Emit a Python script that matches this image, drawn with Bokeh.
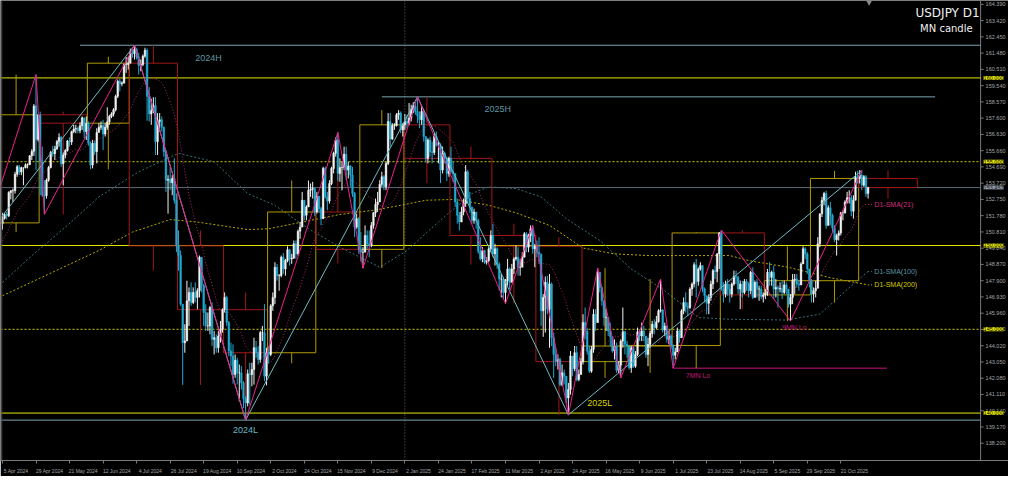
import numpy as np
import pandas as pd
from bokeh.plotting import figure
from bokeh.models import (Range1d, LinearAxis, FixedTicker, Label, ColumnDataSource, Span)
from bokeh.core.properties import value
from bokeh.embed import file_html
from bokeh.resources import INLINE

# ---------------- data ----------------
symbol_title = "USDJPY D1"
sub_title = "MN candle"
first_bar = "2024-04-05"
holidays = ["2024-12-25", "2025-01-01", "2025-12-25"]

# closes before the first visible bar (2024-03-08 .. 2024-04-04), for SMA(21)
pre_close = [147.05, 146.95, 147.65, 147.75, 148.3, 149.05, 149.15, 150.85, 151.25, 151.6,
             151.4, 151.4, 151.55, 151.3, 151.35, 151.35, 151.65, 151.55, 151.7, 151.3]

# daily closes 2024-04-05 .. 2025-11-07 (one row per week)
close = [
    151.62,
    151.85, 151.77, 153.16, 153.27, 153.27,
    154.25, 154.70, 154.38, 154.64, 154.64,
    154.82, 154.82, 155.35, 155.62, 158.33,
    156.33, 157.79, 155.0, 153.0, 152.97,
    153.9, 154.65, 155.55, 155.48, 155.78,
    156.2, 156.45, 154.88, 155.4, 155.67,
    156.24, 156.18, 156.8, 156.95, 156.98,
    156.86, 157.15, 157.62, 156.8, 157.3,
    156.1, 154.8, 156.1, 155.6, 156.75,
    157.05, 157.15, 156.65, 157.05, 157.38,
    157.7, 157.85, 158.1, 158.9, 159.8,
    159.65, 159.7, 160.8, 160.8, 160.88,
    161.5, 161.45, 161.7, 161.25, 160.75,
    160.8, 161.3, 161.65, 158.9, 157.85,
    158.05, 158.35, 156.2, 157.4, 157.5,
    157.05, 155.6, 153.9, 153.95, 153.75,
    154.0, 152.7, 149.98, 149.4, 146.5,
    144.2, 144.3, 146.7, 147.2, 146.6,
    147.2, 146.9, 147.3, 149.3, 147.6,
    146.0, 145.2, 145.2, 146.3, 144.4,
    144.5, 143.9, 144.6, 145.0, 146.17,
    146.9, 145.4, 143.7, 143.4, 142.3,
    143.15, 142.4, 142.4, 141.8, 140.85,
    140.6, 142.35, 142.3, 142.6, 143.9,
    143.6, 143.2, 144.8, 144.8, 142.2,
    143.6, 143.5, 146.4, 146.9, 148.7,
    148.2, 148.2, 149.3, 148.6, 149.1,
    149.75, 149.2, 149.25, 150.1, 149.5,
    150.85, 151.1, 152.7, 151.8, 152.3,
    153.3, 153.35, 153.4, 152.0, 152.95,
    152.2, 151.6, 154.6, 152.9, 152.65,
    153.7, 154.6, 155.5, 156.3, 154.3,
    154.65, 154.65, 155.45, 154.5, 154.75,
    154.2, 153.1, 151.1, 151.6, 149.77,
    149.6, 149.6, 150.6, 150.1, 150.0,
    151.2, 151.95, 152.45, 152.6, 153.65,
    154.1, 153.5, 154.9, 157.4, 156.35,
    157.15, 157.15, 157.8, 157.9,
    156.9, 157.2, 157.4, 157.3,
    157.6, 158.1, 158.3, 158.0, 157.75,
    157.5, 158.0, 156.5, 155.2, 156.3,
    155.6, 155.55, 156.5, 156.0, 156.0,
    154.5, 155.5, 155.2, 154.3, 155.2,
    154.4, 154.3, 152.6, 151.8, 151.4,
    152.0, 152.5, 154.4, 152.8, 152.3,
    151.5, 152.0, 151.5, 149.65, 149.2,
    149.7, 149.0, 149.1, 149.8, 150.6,
    149.5, 149.8, 148.9, 148.0, 148.0,
    147.2, 147.9, 148.6, 147.8, 148.6,
    149.2, 149.3, 148.7, 148.7, 149.3,
    150.7, 149.9, 150.6, 151.0, 149.8,
    149.96, 149.6, 149.5, 146.1, 146.9,
    147.8, 146.2, 147.7, 144.5, 143.5,
    143.1, 143.2, 141.7, 142.4, 142.2,
    140.9, 141.4, 143.4, 142.65, 143.6,
    142.0, 142.3, 143.07, 145.4, 144.9,
    143.7, 142.5, 143.8, 145.9, 145.4,
    148.4, 147.5, 146.7, 145.7, 145.7,
    144.9, 144.55, 143.7, 144.0, 142.55,
    142.85, 144.3, 144.85, 144.1, 144.0,
    142.7, 143.9, 142.8, 143.5, 144.85,
    144.6, 144.9, 144.6, 143.5, 144.1,
    144.75, 145.3, 145.1, 145.45, 146.1,
    146.15, 144.95, 145.2, 144.4, 144.6,
    144.03, 143.45, 143.65, 144.9, 144.5,
    146.1, 146.6, 146.35, 146.3, 147.4,
    147.7, 148.85, 147.85, 148.6, 148.8,
    147.4, 147.0, 146.55, 146.9, 147.7,
    148.5, 148.45, 149.5, 150.75, 147.4,
    147.1, 147.7, 147.4, 147.1, 147.7,
    148.15, 148.1, 147.4, 147.7, 147.2,
    147.85, 147.7, 147.3, 148.4, 146.9,
    147.8, 147.4, 147.4, 146.95, 147.05,
    147.15, 148.4, 148.1, 148.4, 147.4,
    147.5, 147.4, 147.45, 147.2, 147.65,
    147.4, 146.5, 146.9, 147.95, 148.0,
    147.7, 147.65, 148.9, 149.8, 149.5,
    148.6, 147.9, 147.1, 147.3, 147.45,
    150.1, 151.9, 152.7, 153.1, 151.2,
    152.25, 151.8, 151.05, 150.35, 150.6,
    150.75, 151.95, 151.95, 152.6, 152.85,
    152.85, 152.05, 152.7, 154.1, 154.0,
    154.2, 153.6, 154.1, 153.1, 153.46,
]

high = [
    151.95,
    151.95, 152.0, 153.24, 153.3, 153.4,
    154.4, 154.8, 154.8, 154.7, 154.65,
    154.9, 154.9, 155.4, 155.75, 158.44,
    160.2, 157.8, 157.99, 155.9, 153.9,
    154.0, 154.75, 155.65, 155.95, 155.95,
    156.3, 156.7, 156.55, 155.55, 155.75,
    156.3, 156.45, 156.85, 157.2, 157.2,
    157.1, 157.35, 157.7, 157.6, 157.7,
    157.4, 156.2, 156.3, 156.25, 157.0,
    157.3, 157.4, 157.5, 157.3, 158.25,
    157.8, 157.95, 158.2, 159.0, 159.9,
    159.95, 159.8, 160.85, 161.25, 161.27,
    161.75, 161.7, 161.95, 161.8, 161.5,
    161.1, 161.4, 161.8, 161.75, 159.45,
    158.75, 158.85, 158.85, 157.9, 157.9,
    157.7, 157.1, 155.7, 154.2, 154.7,
    154.2, 155.2, 153.1, 150.9, 149.7,
    146.5, 145.3, 147.9, 147.5, 147.8,
    147.5, 147.8, 147.45, 149.4, 149.1,
    147.7, 146.5, 146.0, 146.4, 146.6,
    144.9, 144.7, 144.9, 145.5, 146.25,
    147.2, 147.0, 145.5, 144.2, 144.1,
    143.5, 143.3, 142.9, 142.8, 141.9,
    141.0, 142.6, 143.0, 143.0, 144.5,
    144.3, 144.0, 144.9, 145.2, 146.5,
    143.9, 144.0, 146.5, 147.2, 149.0,
    148.9, 148.3, 149.4, 149.55, 149.2,
    149.95, 149.8, 149.5, 150.3, 150.3,
    150.95, 151.4, 153.2, 152.7, 152.4,
    153.88, 153.7, 153.8, 153.4, 153.2,
    152.8, 152.3, 154.7, 154.7, 153.2,
    153.9, 154.7, 155.6, 156.45, 156.75,
    155.2, 155.0, 155.9, 155.9, 155.0,
    154.8, 154.7, 153.2, 151.9, 151.7,
    150.8, 149.9, 151.2, 150.9, 150.9,
    151.4, 152.0, 152.8, 153.2, 153.9,
    154.4, 154.2, 155.0, 157.9, 157.9,
    157.3, 157.3, 157.9, 158.08,
    158.0, 157.3, 157.85, 157.8,
    158.5, 158.4, 158.55, 158.5, 158.87,
    158.0, 158.3, 158.1, 156.4, 156.4,
    156.5, 156.2, 156.7, 156.8, 156.2,
    156.1, 155.9, 155.6, 155.3, 155.3,
    155.9, 155.0, 154.3, 152.8, 152.0,
    152.3, 152.8, 154.8, 154.5, 153.2,
    152.3, 152.2, 152.0, 151.6, 150.5,
    149.9, 149.6, 149.3, 149.9, 150.9,
    151.3, 150.1, 149.9, 149.0, 148.3,
    148.1, 148.0, 149.2, 148.7, 148.9,
    149.3, 150.0, 149.9, 149.2, 149.6,
    150.8, 150.8, 150.7, 151.2, 151.2,
    150.1, 150.3, 150.49, 149.3, 147.1,
    148.15, 148.2, 148.3, 147.8, 144.8,
    143.9, 143.5, 143.3, 142.9, 142.6,
    142.2, 141.8, 143.7, 143.2, 144.0,
    144.0, 142.6, 143.3, 145.9, 146.3,
    145.1, 144.0, 144.0, 146.2, 146.2,
    148.65, 148.3, 147.5, 146.7, 146.2,
    145.7, 145.4, 144.5, 144.4, 144.2,
    143.1, 144.4, 146.3, 144.9, 144.3,
    144.0, 144.0, 144.0, 143.7, 145.1,
    145.0, 145.4, 145.2, 144.6, 144.5,
    144.9, 145.5, 145.6, 145.8, 146.2,
    148.0, 146.2, 145.4, 145.2, 144.9,
    144.7, 144.1, 143.9, 145.1, 145.0,
    146.2, 146.9, 147.2, 146.6, 147.5,
    147.8, 149.0, 149.2, 148.7, 149.0,
    148.7, 147.5, 147.0, 147.1, 147.9,
    148.6, 148.8, 149.55, 150.8, 150.92,
    147.8, 147.9, 148.0, 147.7, 147.8,
    148.5, 148.5, 148.2, 147.9, 147.9,
    148.0, 148.0, 147.8, 148.5, 148.7,
    147.9, 148.0, 147.6, 147.6, 147.2,
    147.4, 148.6, 149.0, 148.5, 148.8,
    148.0, 147.6, 147.8, 147.9, 147.9,
    147.8, 147.4, 147.1, 148.3, 148.3,
    148.3, 147.9, 149.0, 149.95, 149.9,
    149.6, 148.6, 148.0, 147.5, 147.9,
    150.5, 151.9, 152.9, 153.2, 153.27,
    152.4, 152.6, 151.9, 151.2, 150.7,
    150.9, 152.0, 152.1, 152.7, 153.2,
    153.3, 153.0, 153.0, 154.4, 154.45,
    154.5, 154.48, 154.2, 154.2, 153.5,
]

low = [
    150.95,
    151.55, 151.55, 151.7, 152.75, 152.6,
    153.1, 154.1, 154.2, 154.2, 153.6,
    154.6, 154.6, 154.8, 155.1, 155.35,
    154.5, 156.2, 153.0, 152.9, 151.86,
    152.8, 153.8, 154.6, 155.3, 155.1,
    155.7, 155.9, 154.7, 153.6, 155.2,
    155.6, 155.9, 156.0, 156.7, 156.7,
    156.7, 156.7, 156.9, 156.4, 156.3,
    155.95, 154.55, 154.6, 155.4, 154.9,
    156.75, 156.9, 155.7, 156.5, 156.9,
    157.2, 157.6, 157.7, 158.0, 158.8,
    159.2, 159.5, 159.65, 160.3, 160.5,
    160.9, 161.2, 161.1, 161.1, 160.2,
    160.4, 160.7, 161.2, 157.45, 157.4,
    157.2, 157.9, 155.4, 155.4, 156.8,
    156.8, 155.3, 153.2, 151.9, 153.3,
    153.0, 152.5, 149.6, 148.5, 146.4,
    141.68, 143.6, 144.5, 145.2, 146.4,
    146.5, 146.6, 146.2, 146.9, 147.2,
    145.2, 144.9, 144.9, 144.7, 144.0,
    143.5, 143.6, 143.6, 144.2, 144.8,
    146.0, 145.2, 143.4, 142.8, 141.75,
    142.1, 141.7, 140.7, 141.4, 140.3,
    139.58, 140.4, 140.5, 141.6, 141.7,
    143.3, 142.9, 143.0, 144.3, 141.9,
    141.65, 142.95, 143.4, 146.1, 146.5,
    147.9, 147.3, 148.1, 148.3, 148.2,
    149.0, 148.8, 148.9, 149.2, 149.2,
    149.4, 150.4, 151.1, 151.5, 151.5,
    152.3, 152.9, 152.8, 151.75, 151.9,
    151.95, 151.2, 151.9, 152.8, 152.1,
    152.5, 153.6, 154.3, 155.3, 153.85,
    153.8, 153.3, 154.5, 153.9, 154.0,
    153.5, 152.9, 150.5, 151.0, 149.5,
    149.05, 148.65, 149.6, 149.8, 149.3,
    149.9, 151.0, 151.7, 152.0, 152.6,
    153.5, 153.3, 153.3, 154.8, 155.9,
    156.3, 156.9, 157.1, 157.5,
    156.7, 156.5, 156.9, 157.0,
    157.2, 157.4, 157.9, 157.8, 157.3,
    157.0, 157.2, 156.2, 154.95, 154.9,
    155.3, 154.9, 155.4, 155.9, 154.9,
    153.72, 154.3, 154.9, 153.85, 154.1,
    154.3, 153.8, 152.3, 151.3, 150.9,
    151.4, 151.8, 152.3, 152.5, 151.95,
    151.3, 151.3, 151.0, 149.5, 149.1,
    149.0, 148.9, 148.86, 149.0, 149.6,
    149.3, 148.8, 148.6, 147.3, 146.9,
    146.8, 146.54, 147.6, 147.4, 147.9,
    148.3, 149.1, 148.2, 148.2, 148.7,
    149.3, 149.6, 149.6, 150.2, 149.5,
    148.7, 149.3, 148.9, 145.2, 144.55,
    144.8, 145.9, 143.9, 144.0, 142.1,
    142.8, 142.6, 141.6, 141.6, 141.7,
    140.6, 139.89, 141.1, 142.2, 142.5,
    141.9, 141.9, 142.3, 142.9, 144.4,
    143.5, 142.4, 142.4, 143.6, 144.9,
    145.5, 147.2, 146.4, 145.2, 144.9,
    144.6, 144.0, 143.6, 143.2, 142.4,
    142.4, 142.1, 143.9, 143.5, 143.3,
    142.6, 142.4, 142.7, 142.7, 143.4,
    144.3, 144.3, 144.3, 143.3, 142.8,
    143.9, 144.5, 144.7, 145.0, 145.4,
    146.0, 144.8, 144.6, 144.2, 144.1,
    143.8, 142.68, 143.2, 143.7, 144.2,
    144.6, 145.9, 146.0, 145.8, 146.2,
    147.0, 147.5, 146.9, 147.6, 148.5,
    147.2, 146.6, 145.9, 145.9, 146.7,
    147.4, 148.0, 147.8, 148.6, 147.3,
    146.6, 146.9, 147.0, 146.6, 146.9,
    147.6, 147.7, 147.1, 146.2, 146.9,
    147.1, 147.3, 146.9, 147.1, 146.8,
    146.9, 146.9, 146.7, 146.8, 146.6,
    146.8, 147.0, 147.6, 147.6, 146.8,
    146.9, 146.3, 147.2, 146.8, 147.1,
    147.1, 146.3, 145.49, 146.5, 147.1,
    147.5, 147.3, 147.7, 148.9, 149.2,
    148.3, 147.5, 146.6, 146.6, 146.9,
    148.8, 149.9, 151.7, 152.4, 151.0,
    151.3, 151.2, 150.8, 150.2, 149.4,
    150.3, 150.6, 151.5, 151.9, 152.5,
    152.5, 151.75, 151.6, 152.7, 153.7,
    153.7, 153.3, 153.5, 152.9, 152.8,
]

# monthly candles (MN candle)
mn_month = ["2024-04", "2024-05", "2024-06", "2024-07", "2024-08", "2024-09", "2024-10",
            "2024-11", "2024-12", "2025-01", "2025-02", "2025-03", "2025-04", "2025-05",
            "2025-06", "2025-07", "2025-08", "2025-09", "2025-10", "2025-11"]
mn_open = [151.35, 157.8, 157.3, 160.88, 149.98, 146.17, 143.6, 152.0, 149.77, 157.2,
           155.2, 150.6, 149.96, 143.07, 144.0, 144.03, 150.75, 147.05, 147.9, 154.0]
mn_high = [160.2, 157.99, 161.27, 161.95, 150.9, 147.2, 153.88, 156.75, 158.08, 158.87,
           155.9, 151.3, 150.49, 148.65, 148.0, 150.8, 150.92, 149.95, 154.45, 154.48]
mn_low = [150.8, 151.86, 154.55, 148.5, 141.68, 139.58, 142.97, 148.93, 148.65, 153.72,
          148.86, 146.54, 139.89, 142.1, 142.4, 142.68, 146.2, 145.49, 146.6, 152.8]
mn_close = [157.8, 157.3, 160.88, 149.98, 146.17, 143.6, 152.0, 149.77, 157.2, 155.2,
            150.6, 149.96, 143.07, 144.0, 144.03, 150.75, 147.05, 147.9, 154.0, 153.46]

# zigzag pivots
pink_dates = ["2024-03-11", "2024-04-29", "2024-05-03", "2024-07-03", "2024-09-16",
              "2024-11-15", "2024-12-03", "2025-01-10", "2025-03-11", "2025-03-28",
              "2025-04-22", "2025-05-12", "2025-05-27", "2025-06-23", "2025-07-01",
              "2025-08-01", "2025-09-17", "2025-11-04"]
pink_price = [146.48, 160.2, 151.86, 161.95, 139.58, 156.75, 148.65, 158.87, 146.54, 151.2,
              139.89, 148.65, 142.1, 148.0, 142.68, 150.92, 145.49, 154.48]
cyan_dates = ["2024-01-02", "2024-07-03", "2024-09-16", "2025-01-10", "2025-04-22", "2025-11-04"]
cyan_price = [140.8, 161.95, 139.58, 158.87, 139.89, 154.48]

# moving averages
sma100_dates = ["2024-04-05", "2024-04-26", "2024-05-20", "2024-06-10", "2024-07-05",
                "2024-08-01", "2024-08-26", "2024-09-17", "2024-10-04", "2024-10-28",
                "2024-11-18", "2024-12-13", "2025-01-03", "2025-01-24", "2025-02-17",
                "2025-02-27", "2025-03-18", "2025-04-03", "2025-04-21", "2025-05-13",
                "2025-06-03", "2025-06-25", "2025-07-17", "2025-08-07", "2025-09-15",
                "2025-10-07", "2025-10-28", "2025-11-07"]
sma100_val = [147.8, 149.5, 151.2, 152.9, 154.4, 155.5, 155.0, 153.1, 152.4, 151.0,
              149.9, 148.7, 149.7, 151.4, 153.1, 153.5, 153.4, 152.9, 151.6, 150.3,
              148.6, 147.3, 145.7, 145.6, 145.55, 145.9, 147.6, 148.45]
sma200_dates = ["2024-04-05", "2024-06-10", "2024-07-02", "2024-07-26", "2024-08-14",
                "2024-09-17", "2024-10-01", "2024-10-23", "2024-11-18", "2024-12-10",
                "2024-12-30", "2025-01-16", "2025-02-05", "2025-02-27", "2025-03-18",
                "2025-04-09", "2025-05-01", "2025-05-22", "2025-06-13", "2025-07-07",
                "2025-08-07", "2025-08-20", "2025-09-16", "2025-10-13", "2025-11-07"]
sma200_val = [147.0, 149.7, 150.8, 151.55, 151.4, 150.95, 151.0, 151.4, 151.85, 152.1,
              152.4, 152.7, 152.75, 152.4, 151.95, 151.2, 149.85, 149.5, 149.4, 149.4,
              149.4, 149.1, 148.7, 148.1, 147.65]

# horizontal levels
yellow_solid = [160.0, 150.0, 140.0]
yellow_dotted = [155.0, 145.0]
price_now = 153.457
hl_names = ["2024H", "2025H", "2024L"]
hl_price = [161.95, 158.87, 139.58]
mn_low_name = "7MN Lo"
mn_low_price = 142.68
price_ticks = [164.39, 163.42, 162.45, 161.48, 160.51, 159.54, 158.57, 157.60, 156.63,
               155.66, 154.69, 153.72, 152.75, 151.78, 150.81, 149.84, 148.87, 147.90,
               146.93, 145.96, 144.99, 144.02, 143.05, 142.08, 141.11, 140.14, 139.17, 138.20]
date_labels = ["5 Apr 2024", "29 Apr 2024", "21 May 2024", "12 Jun 2024", "4 Jul 2024",
               "26 Jul 2024", "19 Aug 2024", "10 Sep 2024", "2 Oct 2024", "24 Oct 2024",
               "15 Nov 2024", "9 Dec 2024", "2 Jan 2025", "24 Jan 2025", "17 Feb 2025",
               "11 Mar 2025", "2 Apr 2025", "24 Apr 2025", "16 May 2025", "9 Jun 2025",
               "1 Jul 2025", "23 Jul 2025", "14 Aug 2025", "5 Sep 2025", "29 Sep 2025",
               "21 Oct 2025"]
crosshair_date = "2025-01-02"

# ---------------- bar calendar ----------------
cal = pd.bdate_range("2024-01-02", "2026-03-31")
cal = cal[~cal.isin(pd.to_datetime(holidays))]
base = cal.get_loc(pd.Timestamp(first_bar))


def bar(d):
    return cal.get_loc(pd.Timestamp(d)) - base


def month_start_bar(m):
    ts = pd.Timestamp(m + "-01")
    return int(np.searchsorted(cal.values, ts.to_datetime64())) - base


n = len(close)
xs = np.arange(n)
op = [pre_close[-1]] + close[:-1]
hi = [max(h, o, c) for h, o, c in zip(high, op, close)]
lo = [min(l, o, c) for l, o, c in zip(low, op, close)]
bull = [c >= o for o, c in zip(op, close)]

full = pd.Series(pre_close + close)
sma21 = full.rolling(21).mean().values[len(pre_close):]

# ---------------- figure ----------------
W, H = 1008, 476
X0, X1 = -0.94, 480.0     # frame spans the whole width; price scale drawn at AX
AX = 466.7
PXB = W / (X1 - X0)       # pixels per bar
Y0, Y1 = 137.17, 164.62
p = figure(width=W, height=H, x_range=Range1d(X0, X1), y_range=Range1d(Y0, Y1),
           output_backend="svg", toolbar_location=None,
           background_fill_color="black", border_fill_color="black",
           min_border_left=0, min_border_top=0, min_border_right=0, min_border_bottom=0,
           x_axis_location=None, y_axis_location=None)
p.grid.visible = False
p.outline_line_color = None

SMALL = "Liberation Sans"
YEL = "#e6e600"
GRID = "#7a7a7a"

# frame edges: left border and price-scale line
p.add_layout(Span(location=X0 + 0.6, dimension="height", line_color="#555555", line_width=1))
p.segment(x0=[AX], y0=[Y0], x1=[AX], y1=[Y1], line_color=GRID, line_width=1)

# horizontal levels (stop at the price scale)
k = len(yellow_solid)
p.segment(x0=[X0] * k, y0=yellow_solid, x1=[AX] * k, y1=yellow_solid, line_color=YEL,
          line_width=1)
k = len(yellow_dotted)
p.segment(x0=[X0] * k, y0=yellow_dotted, x1=[AX] * k, y1=yellow_dotted, line_color="#cfcf00",
          line_width=1, line_dash="2 2")
p.segment(x0=[X0], y0=[price_now], x1=[AX], y1=[price_now], line_color="#5b6a77", line_width=1)
p.segment(x0=[bar(crosshair_date)], y0=[Y0], x1=[bar(crosshair_date)], y1=[Y1],
          line_color="#6a6a6a", line_width=1, line_dash="1 2")

hl_x0 = [bar("2024-05-28"), bar("2024-12-16"), X0]
hl_x1 = [AX, bar("2025-12-23"), AX]
p.segment(x0=hl_x0, y0=hl_price, x1=hl_x1, y1=hl_price, line_color="#7aa6b2", line_width=1)
p.segment(x0=[bar("2025-07-01")], y0=[mn_low_price], x1=[bar("2025-11-20")], y1=[mn_low_price],
          line_color="#c8157c", line_width=1)

# moving averages
p.line([bar(d) for d in sma200_dates], sma200_val, line_color="#b8a800", line_width=1,
       line_dash="2 2")
p.line([bar(d) for d in sma100_dates], sma100_val, line_color="#356f76", line_width=1,
       line_dash="2 2")
p.line(xs, sma21, line_color="#a82868", line_width=1, line_dash="1 2")

# monthly candle boxes
mn_start = [month_start_bar(m) for m in mn_month]
mn_end = mn_start[1:] + [mn_start[-1] + 28]
mn_col = ["#b09a00" if c >= o else "#a01818" for o, c in zip(mn_open, mn_close)]
mn_left = [s - 0.5 for s in mn_start]
mn_right = [e - 0.5 for e in mn_end]
mn_mid = [(s + e) / 2 - 0.5 for s, e in zip(mn_start, mn_end)]
mn_top = [max(o, c) for o, c in zip(mn_open, mn_close)]
mn_bot = [min(o, c) for o, c in zip(mn_open, mn_close)]
p.quad(left=mn_left, right=mn_right, top=mn_top, bottom=mn_bot, fill_color=None,
       line_color=mn_col, line_width=1)
p.segment(x0=mn_mid, y0=mn_high, x1=mn_mid, y1=mn_top, line_color=mn_col, line_width=1)
p.segment(x0=mn_mid, y0=mn_bot, x1=mn_mid, y1=mn_low, line_color=mn_col, line_width=1)

# daily candles
BULL, BEAR = "#f2f2f2", "#22a8d0"
src = ColumnDataSource(dict(
    x=xs, h=hi, l=lo,
    top=[max(o, c) for o, c in zip(op, close)],
    bottom=[min(o, c) for o, c in zip(op, close)],
    col=[BULL if b else BEAR for b in bull]))
p.segment(x0="x", y0="l", x1="x", y1="h", line_color="col", line_width=1, source=src)
p.vbar(x="x", width=0.78, top="top", bottom="bottom", fill_color="col", line_color="col",
       line_width=0.5, source=src)

# zigzags
p.line([bar(d) for d in cyan_dates], cyan_price, line_color="#6fb9c4", line_width=1)
p.line([bar(d) for d in pink_dates], pink_price, line_color="#ee1f8c", line_width=1)

# SMA leader lines
last = n - 1
lead_y = [sma21[-1], sma100_val[-1], sma200_val[-1]]
p.segment(x0=[last] * 3, y0=lead_y, x1=[last + 2.5] * 3, y1=lead_y,
          line_color=["#a82868", "#356f76", "#b8a800"], line_width=1, line_dash="1 2")

# shift marker
p.scatter([last + 0.5], [Y1 - 0.1], marker="inverted_triangle", size=6,
          fill_color="#8a8a8a", line_color=None)


def txt(x, y, s, color, size, align="left", font=SMALL, baseline="middle", **kw):
    p.add_layout(Label(x=x, y=y, text=s, text_color=color, text_font_size=size,
                       text_font=font, text_align=align, text_baseline=baseline, **kw))


txt(bar("2024-08-13"), 161.2, hl_names[0], "#5f95a2", "9px")
txt(bar("2025-02-25"), 158.14, hl_names[1], "#5f95a2", "9px")
txt(bar("2024-09-06"), 139.0, hl_names[2], "#66b6c6", "9px")
txt(bar("2025-05-05"), 140.58, "2025L", "#d6d000", "9px")
txt(bar("2025-07-09"), 142.22, mn_low_name, "#c8157c", "7px")
txt(bar("2025-09-11"), 145.1, "9MN Lo", "#c8157c", "7px")
txt(last + 3, lead_y[0], "D1-SMA(21)", "#d0307e", "7px")
txt(last + 3, lead_y[1], "D1-SMA(100)", "#5c98a4", "7px")
txt(last + 3, lead_y[2], "D1-SMA(200)", "#d6c800", "7px")

txt(AX, Y1 - 0.3, symbol_title, "#f0f0f0", "12px", align="right", font="DejaVu Sans",
    baseline="top", x_offset=-1)
txt(AX, Y1 - 1.35, sub_title, "#f0f0f0", "10px", align="right", font="DejaVu Sans",
    baseline="top", x_offset=-8)

# ---------------- price scale (right) ----------------
tick_len = 3 / PXB
m = len(price_ticks)
p.segment(x0=[AX] * m, y0=price_ticks, x1=[AX + tick_len] * m, y1=price_ticks,
          line_color=GRID, line_width=1)
p.text(x=[AX] * m, y=price_ticks, text=[f"{v:.3f}" for v in price_ticks],
       x_offset=5, text_font=value(SMALL), text_font_size="5.5px", text_color="#a6a6a6",
       text_baseline="middle", text_align="left")
for v in yellow_solid + yellow_dotted:
    txt(AX, v, f"{v:.3f}", "black", "5.5px", x_offset=3, background_fill_color=YEL)
txt(AX, price_now, f"{price_now:.3f}", "#1a1a1a", "5.5px", x_offset=3,
    background_fill_color="#8e9aa6")

# ---------------- time axis (below) ----------------
tick_pos = [bar(pd.Timestamp(d).strftime("%Y-%m-%d")) for d in date_labels]
lab_pos = [t + 6.5 for t in tick_pos]
xax = LinearAxis(ticker=FixedTicker(ticks=lab_pos, minor_ticks=tick_pos),
                 major_label_overrides={float(lp): s for lp, s in zip(lab_pos, date_labels)})
xax.axis_line_color = GRID
xax.major_tick_line_color = None
xax.minor_tick_line_color = GRID
xax.minor_tick_in = 0
xax.minor_tick_out = 3
xax.major_label_text_color = "#a6a6a6"
xax.major_label_text_font_size = "5px"
xax.major_label_text_font = SMALL
xax.major_label_standoff = 1
p.add_layout(xax, "below")

open("out.html", "w").write(file_html(p, INLINE))
